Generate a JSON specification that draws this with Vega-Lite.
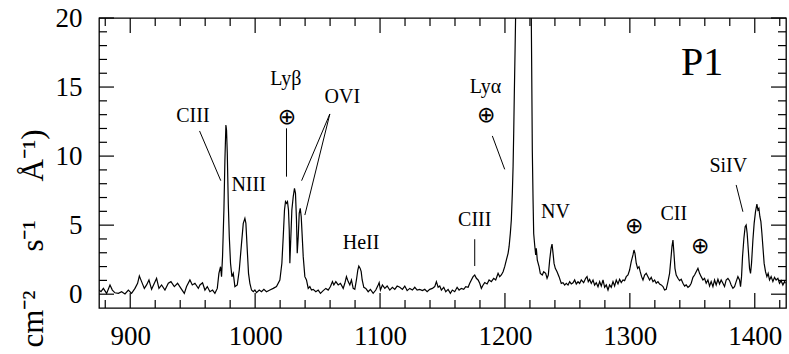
{
  "$schema": "https://vega.github.io/schema/vega-lite/v6.json",
  "width": 687,
  "height": 290,
  "autosize": {"type": "none"},
  "padding": {"left": 99, "top": 18, "right": 3, "bottom": 46},
  "background": "white",
  "config": {
    "view": {"stroke": "black", "strokeWidth": 1.3},
    "font": "Liberation Serif",
    "axis": {
      "domain": false,
      "ticks": false,
      "tickSize": 0,
      "grid": false,
      "labelColor": "black",
      "labelFont": "Liberation Serif",
      "labelFontSize": 27,
      "labelOverlap": false,
      "labelFlush": false,
      "titleColor": "black",
      "titleFont": "Liberation Serif",
      "titleFontWeight": "normal"
    }
  },
  "datasets": {
    "spec": [
      {"wl":875,"flux":0.30},{"wl":876.6,"flux":0.18},{"wl":878.5,"flux":0.42},{"wl":881.1,"flux":0.06},{"wl":883.8,"flux":0.67},{"wl":885.7,"flux":0.30},{"wl":887.8,"flux":0.10},{"wl":890.5,"flux":0.06},{"wl":893.1,"flux":0.18},{"wl":895.8,"flux":0.02},{"wl":898.5,"flux":0.30},{"wl":901.1,"flux":0.06},{"wl":903.8,"flux":0.42},{"wl":905.9,"flux":0.79},{"wl":907.3,"flux":1.32},{"wl":909.1,"flux":0.91},{"wl":911.3,"flux":0.42},{"wl":913.1,"flux":0.67},{"wl":915.0,"flux":1.03},{"wl":917.1,"flux":0.35},{"wl":919.3,"flux":0.79},{"wl":921.1,"flux":1.15},{"wl":923.0,"flux":0.42},{"wl":925.1,"flux":0.67},{"wl":927.8,"flux":0.30},{"wl":930.5,"flux":0.79},{"wl":932.6,"flux":0.91},{"wl":935.3,"flux":0.55},{"wl":937.9,"flux":0.79},{"wl":940.6,"flux":0.42},{"wl":943.3,"flux":0.06},{"wl":945.1,"flux":0.55},{"wl":947.8,"flux":1.03},{"wl":949.7,"flux":0.67},{"wl":951.8,"flux":0.79},{"wl":954.5,"flux":0.42},
      {"wl":955.8,"flux":0.67},{"wl":957.9,"flux":0.83},{"wl":959.8,"flux":0.30},{"wl":961.7,"flux":0.55},{"wl":963.8,"flux":0.18},{"wl":965.9,"flux":0.30},{"wl":967.8,"flux":0.06},{"wl":969.7,"flux":0.42},{"wl":971.0,"flux":1.51},{"wl":972.3,"flux":1.99},{"wl":973.1,"flux":1.27},{"wl":973.9,"flux":2.72},{"wl":975.0,"flux":6.10},{"wl":975.8,"flux":9.72},{"wl":976.6,"flux":12.25},{"wl":977.1,"flux":11.89},{"wl":977.7,"flux":10.20},{"wl":978.5,"flux":6.58},{"wl":979.3,"flux":4.17},{"wl":980.3,"flux":2.24},{"wl":981.4,"flux":1.27},{"wl":982.5,"flux":1.51},{"wl":983.8,"flux":0.55},{"wl":985.7,"flux":0.67},{"wl":987.3,"flux":1.75},{"wl":989.1,"flux":3.68},{"wl":990.5,"flux":5.13},{"wl":991.8,"flux":5.49},{"wl":992.6,"flux":5.13},{"wl":993.7,"flux":3.20},{"wl":994.7,"flux":1.51},{"wl":995.8,"flux":0.79},{"wl":997.1,"flux":0.30},{"wl":998.5,"flux":0.18},{"wl":999.8,"flux":0.30},{"wl":1001.1,"flux":0.11},{"wl":1003.3,"flux":0.30},{"wl":1005.1,"flux":0.18},{"wl":1007.0,"flux":0.35},{"wl":1009.1,"flux":0.18},{"wl":1011.8,"flux":0.30},{"wl":1014.5,"flux":0.42},{"wl":1017.1,"flux":0.55},{"wl":1019.8,"flux":1.03},{"wl":1021.4,"flux":2.24},{"wl":1022.5,"flux":4.17},{"wl":1023.5,"flux":6.10},{"wl":1024.3,"flux":6.70},{"wl":1025.1,"flux":6.58},{"wl":1025.9,"flux":6.70},{"wl":1026.7,"flux":6.10},{"wl":1027.3,"flux":4.65},{"wl":1027.8,"flux":2.24},{"wl":1028.6,"flux":4.17},{"wl":1029.4,"flux":6.10},{"wl":1030.5,"flux":7.06},{"wl":1031.5,"flux":7.67},{"wl":1032.3,"flux":7.30},{"wl":1033.1,"flux":5.37},{"wl":1033.7,"flux":2.96},{"wl":1034.5,"flux":4.17},{"wl":1035.3,"flux":5.86},{"wl":1036.1,"flux":6.22},{"wl":1036.9,"flux":5.61},{"wl":1037.7,"flux":4.17},
      {"wl":1038.5,"flux":2.72},{"wl":1039.8,"flux":1.27},{"wl":1041.1,"flux":1.03},{"wl":1042.5,"flux":0.42},{"wl":1043.8,"flux":0.55},{"wl":1045.1,"flux":0.30},{"wl":1046.5,"flux":0.35},{"wl":1048.6,"flux":0.18},{"wl":1050.5,"flux":0.30},{"wl":1052.3,"flux":0.06},{"wl":1054.5,"flux":0.26},{"wl":1056.6,"flux":0.42},{"wl":1058.5,"flux":0.30},{"wl":1060.3,"flux":0.55},{"wl":1061.9,"flux":0.91},{"wl":1063.0,"flux":0.67},{"wl":1064.6,"flux":0.91},{"wl":1066.5,"flux":0.67},{"wl":1068.3,"flux":0.79},{"wl":1070.5,"flux":0.42},{"wl":1071.8,"flux":0.79},{"wl":1073.1,"flux":1.27},{"wl":1074.5,"flux":0.91},{"wl":1075.8,"flux":0.67},{"wl":1077.1,"flux":1.03},{"wl":1078.5,"flux":0.42},{"wl":1079.8,"flux":0.35},{"wl":1081.1,"flux":1.03},{"wl":1082.2,"flux":1.75},{"wl":1083.0,"flux":2.04},{"wl":1084.1,"flux":1.87},{"wl":1084.9,"flux":1.63},{"wl":1085.7,"flux":1.03},{"wl":1087.0,"flux":0.50},{"wl":1088.6,"flux":0.42},{"wl":1090.5,"flux":0.18},{"wl":1092.3,"flux":0.35},{"wl":1094.5,"flux":0.06},{"wl":1096.6,"flux":0.30},{"wl":1098.5,"flux":0.67},{"wl":1099.3,"flux":0.84},{"wl":1100.3,"flux":0.30},{"wl":1101.9,"flux":0.67},{"wl":1103.8,"flux":0.42},{"wl":1105.7,"flux":0.59},{"wl":1107.8,"flux":0.30},{"wl":1109.9,"flux":0.50},{"wl":1111.8,"flux":0.35},{"wl":1113.7,"flux":0.59},
      {"wl":1115.8,"flux":0.50},{"wl":1117.9,"flux":0.35},{"wl":1119.8,"flux":0.59},{"wl":1121.7,"flux":0.26},{"wl":1123.8,"flux":0.42},{"wl":1125.9,"flux":0.30},{"wl":1127.8,"flux":0.50},{"wl":1129.7,"flux":0.30},{"wl":1131.8,"flux":0.35},{"wl":1133.9,"flux":0.26},{"wl":1135.8,"flux":0.35},{"wl":1137.7,"flux":0.18},{"wl":1139.8,"flux":0.35},{"wl":1141.9,"flux":0.42},{"wl":1143.8,"flux":0.55},{"wl":1145.1,"flux":0.91},{"wl":1146.5,"flux":0.50},{"wl":1147.8,"flux":0.59},{"wl":1149.1,"flux":0.30},{"wl":1151.0,"flux":0.50},{"wl":1152.6,"flux":0.18},{"wl":1154.5,"flux":0.35},{"wl":1156.3,"flux":0.06},{"wl":1157.9,"flux":0.30},{"wl":1159.8,"flux":0.18},{"wl":1161.7,"flux":0.50},{"wl":1163.3,"flux":0.30},{"wl":1165.1,"flux":0.42},{"wl":1167.0,"flux":0.35},{"wl":1168.6,"flux":0.55},{"wl":1170.5,"flux":0.50},{"wl":1171.8,"flux":0.79},{"wl":1173.1,"flux":1.03},{"wl":1174.5,"flux":1.27},{"wl":1175.8,"flux":1.39},{"wl":1177.1,"flux":1.15},{"wl":1178.5,"flux":1.03},{"wl":1179.8,"flux":0.79},{"wl":1181.1,"flux":0.42},{"wl":1182.5,"flux":0.67},{"wl":1183.8,"flux":0.84},{"wl":1185.7,"flux":0.74},{"wl":1187.3,"flux":1.03},{"wl":1189.1,"flux":0.91},{"wl":1191.0,"flux":1.15},{"wl":1192.6,"flux":1.03},{"wl":1194.5,"flux":1.51},
      {"wl":1195.8,"flux":1.27},{"wl":1197.1,"flux":1.39},{"wl":1198.5,"flux":1.63},{"wl":1199.8,"flux":1.99},{"wl":1201.1,"flux":2.47},{"wl":1202.5,"flux":2.96},{"wl":1203.3,"flux":3.44},{"wl":1204.3,"flux":4.40},{"wl":1205.1,"flux":5.37},{"wl":1205.9,"flux":7.30},{"wl":1206.5,"flux":9.23},{"wl":1207.0,"flux":11.65},{"wl":1207.5,"flux":14.54},{"wl":1208.1,"flux":17.68},{"wl":1208.6,"flux":20.5},{"wl":1210.0,"flux":28},{"wl":1213.0,"flux":36},{"wl":1216.0,"flux":40},{"wl":1219.0,"flux":33},{"wl":1220.6,"flux":24},{"wl":1221.1,"flux":19.85},{"wl":1221.4,"flux":16.47},{"wl":1221.7,"flux":12.85},{"wl":1221.9,"flux":10.44},{"wl":1222.5,"flux":6.82},{"wl":1223.0,"flux":4.40},{"wl":1223.8,"flux":3.56},{"wl":1224.6,"flux":2.84},{"wl":1225.1,"flux":3.32},{"wl":1225.9,"flux":2.47},{"wl":1227.3,"flux":1.99},{"wl":1228.3,"flux":1.51},{"wl":1229.9,"flux":1.39},{"wl":1231.0,"flux":1.63},{"wl":1232.6,"flux":1.51},{"wl":1233.7,"flux":1.15},{"wl":1234.7,"flux":1.39},{"wl":1235.8,"flux":2.47},{"wl":1236.9,"flux":3.32},{"wl":1237.7,"flux":3.63},{"wl":1238.5,"flux":2.96},{"wl":1239.3,"flux":2.23},{"wl":1240.3,"flux":1.87},{"wl":1241.7,"flux":1.63},{"wl":1243.3,"flux":1.27},{"wl":1245.1,"flux":0.78},{"wl":1246.5,"flux":0.83},{"wl":1247.8,"flux":0.66},{"wl":1249.1,"flux":0.78},{"wl":1250.5,"flux":0.66},{"wl":1251.8,"flux":0.90},{"wl":1253.1,"flux":0.74},{"wl":1254.5,"flux":0.83},{"wl":1255.8,"flux":1.03},{"wl":1257.1,"flux":0.74},{"wl":1258.5,"flux":0.90},{"wl":1259.8,"flux":0.78},{"wl":1261.1,"flux":1.03},{"wl":1263.0,"flux":0.83},{"wl":1264.6,"flux":1.15},{"wl":1265.7,"flux":1.27},{"wl":1266.7,"flux":0.90},{"wl":1267.8,"flux":1.07},{"wl":1269.1,"flux":0.78},{"wl":1270.5,"flux":1.03},{"wl":1271.8,"flux":0.66},{"wl":1273.1,"flux":0.83},{"wl":1274.5,"flux":0.54},
      {"wl":1275.8,"flux":0.91},{"wl":1277.1,"flux":0.59},{"wl":1278.5,"flux":1.03},{"wl":1279.8,"flux":0.50},{"wl":1281.1,"flux":0.67},{"wl":1282.5,"flux":0.30},{"wl":1283.8,"flux":0.67},{"wl":1285.1,"flux":0.50},{"wl":1286.5,"flux":0.91},{"wl":1287.8,"flux":0.59},{"wl":1289.1,"flux":1.03},{"wl":1290.5,"flux":0.74},{"wl":1291.8,"flux":1.08},{"wl":1293.1,"flux":0.84},{"wl":1294.5,"flux":1.03},{"wl":1295.8,"flux":0.98},{"wl":1297.1,"flux":1.27},{"wl":1298.5,"flux":1.39},{"wl":1299.8,"flux":1.75},{"wl":1301.1,"flux":2.36},{"wl":1302.5,"flux":2.84},{"wl":1303.3,"flux":3.20},{"wl":1304.1,"flux":2.96},{"wl":1305.1,"flux":2.24},{"wl":1306.2,"flux":1.87},{"wl":1307.3,"flux":1.99},{"wl":1308.3,"flux":1.63},{"wl":1309.4,"flux":1.27},{"wl":1310.5,"flux":1.03},{"wl":1311.8,"flux":1.39},{"wl":1313.1,"flux":1.51},{"wl":1314.5,"flux":1.27},{"wl":1315.8,"flux":1.03},{"wl":1317.1,"flux":1.22},{"wl":1318.5,"flux":0.91},{"wl":1319.8,"flux":1.03},{"wl":1321.1,"flux":0.79},{"wl":1322.5,"flux":0.91},{"wl":1323.8,"flux":0.74},{"wl":1325.1,"flux":0.67},{"wl":1326.5,"flux":0.55},{"wl":1327.8,"flux":0.30},{"wl":1329.1,"flux":0.35},{"wl":1330.5,"flux":0.91},{"wl":1331.8,"flux":1.51},{"wl":1332.9,"flux":2.60},{"wl":1333.7,"flux":3.44},{"wl":1334.5,"flux":3.92},{"wl":1335.3,"flux":2.96},{"wl":1336.1,"flux":1.87},{"wl":1337.1,"flux":1.39},{"wl":1338.5,"flux":1.15},{"wl":1339.8,"flux":0.98},{"wl":1341.1,"flux":1.08},{"wl":1342.5,"flux":0.79},{"wl":1343.8,"flux":0.59},{"wl":1345.1,"flux":0.67},{"wl":1346.5,"flux":0.50},{"wl":1347.8,"flux":0.59},{"wl":1349.1,"flux":0.79},{"wl":1350.5,"flux":1.22},{"wl":1351.8,"flux":1.39},{"wl":1353.1,"flux":1.63},{"wl":1354.5,"flux":1.87},
      {"wl":1355.8,"flux":1.51},{"wl":1357.1,"flux":1.27},{"wl":1358.5,"flux":1.03},{"wl":1359.8,"flux":1.15},{"wl":1361.1,"flux":0.79},{"wl":1362.5,"flux":1.03},{"wl":1363.8,"flux":0.59},{"wl":1365.1,"flux":0.91},{"wl":1366.5,"flux":0.55},{"wl":1367.8,"flux":1.03},{"wl":1369.1,"flux":0.67},{"wl":1370.5,"flux":1.08},{"wl":1371.8,"flux":0.74},{"wl":1373.1,"flux":1.03},{"wl":1374.5,"flux":0.79},{"wl":1375.8,"flux":0.55},{"wl":1377.1,"flux":1.03},{"wl":1378.5,"flux":1.15},{"wl":1379.8,"flux":0.98},{"wl":1381.1,"flux":0.67},{"wl":1382.5,"flux":0.43},{"wl":1383.8,"flux":0.55},{"wl":1385.1,"flux":0.91},{"wl":1386.5,"flux":1.27},{"wl":1387.8,"flux":1.03},{"wl":1388.6,"flux":0.55},{"wl":1389.4,"flux":1.27},{"wl":1390.2,"flux":2.72},{"wl":1391.3,"flux":4.05},{"wl":1392.3,"flux":4.89},{"wl":1393.1,"flux":5.01},{"wl":1393.9,"flux":4.41},{"wl":1395.0,"flux":2.96},{"wl":1395.8,"flux":1.87},{"wl":1396.6,"flux":1.51},{"wl":1397.4,"flux":2.23},{"wl":1398.5,"flux":3.92},{"wl":1399.5,"flux":5.13},{"wl":1400.6,"flux":5.98},{"wl":1401.7,"flux":6.53},{"wl":1402.5,"flux":6.10},{"wl":1403.3,"flux":6.22},{"wl":1404.1,"flux":5.61},{"wl":1404.9,"flux":5.25},{"wl":1405.7,"flux":4.41},{"wl":1406.5,"flux":3.44},{"wl":1407.5,"flux":2.23},{"wl":1408.6,"flux":1.63},{"wl":1409.7,"flux":1.27},{"wl":1410.7,"flux":1.51},{"wl":1411.8,"flux":1.03},{"wl":1413.1,"flux":1.27},{"wl":1414.5,"flux":0.91},{"wl":1415.8,"flux":1.22},{"wl":1417.1,"flux":1.03},{"wl":1418.5,"flux":1.15},{"wl":1419.8,"flux":0.79},{"wl":1421.1,"flux":0.98},{"wl":1422.5,"flux":0.67},{"wl":1423.8,"flux":0.91},{"wl":1424.6,"flux":0.79}
    ],
    "xMajor": [{"wl":900},{"wl":1000},{"wl":1100},{"wl":1200},{"wl":1300},{"wl":1400}],
    "xMinor": [{"wl":880},{"wl":920},{"wl":940},{"wl":960},{"wl":980},{"wl":1020},{"wl":1040},{"wl":1060},{"wl":1080},{"wl":1120},{"wl":1140},{"wl":1160},{"wl":1180},{"wl":1220},{"wl":1240},{"wl":1260},{"wl":1280},{"wl":1320},{"wl":1340},{"wl":1360},{"wl":1380},{"wl":1420}],
    "yMajor": [{"flux":0},{"flux":5},{"flux":10},{"flux":15},{"flux":20}],
    "yMinor": [{"flux":1},{"flux":2},{"flux":3},{"flux":4},{"flux":6},{"flux":7},{"flux":8},{"flux":9},{"flux":11},{"flux":12},{"flux":13},{"flux":14},{"flux":16},{"flux":17},{"flux":18},{"flux":19}],
    "lineLabels": [
      {"label":"CIII","wl":950.2,"flux":12.49},
      {"label":"NIII","wl":994.8,"flux":7.47},
      {"label":"Lyβ","wl":1024.6,"flux":15.15},
      {"label":"OVI","wl":1069.8,"flux":13.82},
      {"label":"HeII","wl":1084.8,"flux":3.25},
      {"label":"CIII","wl":1175.8,"flux":4.94},
      {"label":"Lyα","wl":1184.4,"flux":14.55},
      {"label":"NV","wl":1240.4,"flux":5.50},
      {"label":"CII","wl":1335.2,"flux":5.37},
      {"label":"SiIV","wl":1378.8,"flux":8.87}
    ],
    "telluric": [
      {"label":"⊕","wl":1025.4,"flux":12.85},
      {"label":"⊕","wl":1185.1,"flux":12.98},
      {"label":"⊕","wl":1303.4,"flux":4.95},
      {"label":"⊕","wl":1356.4,"flux":3.5}
    ],
    "panel": [
      {"label":"P1","wl":1357.8,"flux":15.87}
    ],
    "leaders": [
      {"wl":955.5,"flux":11.82,"wl2":972.5,"flux2":8.22},
      {"wl":1025.1,"flux":12.01,"wl2":1025.1,"flux2":8.51},
      {"wl":1059.8,"flux":13.05,"wl2":1037.2,"flux2":8.22},
      {"wl":1059.8,"flux":13.05,"wl2":1039.8,"flux2":5.73},
      {"wl":1175.8,"flux":3.98,"wl2":1175.8,"flux2":2.04},
      {"wl":1189.9,"flux":11.46,"wl2":1199.8,"flux2":9.04},
      {"wl":1385.1,"flux":7.91,"wl2":1390.5,"flux2":5.97}
    ]
  },
  "layer": [
    {
      "data": {"name": "spec"},
      "mark": {"type": "line", "color": "black", "strokeWidth": 1.2, "clip": true},
      "encoding": {
        "x": {"field": "wl", "type": "quantitative", "scale": {"domain": [875, 1425], "nice": false, "zero": false},
              "axis": {"orient": "bottom", "values": [900,1000,1100,1200,1300,1400], "format": "d", "labelPadding": 15, "title": null}},
        "y": {"field": "flux", "type": "quantitative", "scale": {"domain": [-1, 20], "nice": false, "zero": false},
              "axis": {"orient": "left", "values": [0,5,10,15,20], "format": "d", "labelPadding": 17,
                       "title": "cm⁻²\u00a0\u00a0\u00a0\u00a0\u00a0s⁻¹\u00a0\u00a0\u00a0\u00a0\u00a0Å⁻¹)", "titleFontSize": 31, "titleAngle": 270, "titleAlign": "left",
                       "titleBaseline": "alphabetic", "titleX": -57, "titleY": 329, "titleLimit": 1000}}
      }
    },
    {
      "data": {"name": "xMajor"},
      "mark": {"type": "rule", "color": "black", "strokeWidth": 1.2},
      "encoding": {
        "x": {"field": "wl", "type": "quantitative", "scale": {"domain": [875, 1425], "nice": false, "zero": false}, "axis": null},
        "y": {"datum": -1, "type": "quantitative", "scale": {"domain": [-1, 20], "nice": false, "zero": false}, "axis": null},
        "y2": {"datum": 0.086}
      }
    },
    {
      "data": {"name": "xMinor"},
      "mark": {"type": "rule", "color": "black", "strokeWidth": 1.2},
      "encoding": {
        "x": {"field": "wl", "type": "quantitative", "scale": {"domain": [875, 1425], "nice": false, "zero": false}, "axis": null},
        "y": {"datum": -1, "type": "quantitative", "scale": {"domain": [-1, 20], "nice": false, "zero": false}, "axis": null},
        "y2": {"datum": -0.42}
      }
    },
    {
      "data": {"name": "xMajor"},
      "mark": {"type": "rule", "color": "black", "strokeWidth": 1.2},
      "encoding": {
        "x": {"field": "wl", "type": "quantitative", "scale": {"domain": [875, 1425], "nice": false, "zero": false}, "axis": null},
        "y": {"datum": 20, "type": "quantitative", "scale": {"domain": [-1, 20], "nice": false, "zero": false}, "axis": null},
        "y2": {"datum": 18.914}
      }
    },
    {
      "data": {"name": "xMinor"},
      "mark": {"type": "rule", "color": "black", "strokeWidth": 1.2},
      "encoding": {
        "x": {"field": "wl", "type": "quantitative", "scale": {"domain": [875, 1425], "nice": false, "zero": false}, "axis": null},
        "y": {"datum": 20, "type": "quantitative", "scale": {"domain": [-1, 20], "nice": false, "zero": false}, "axis": null},
        "y2": {"datum": 19.42}
      }
    },
    {
      "data": {"name": "yMajor"},
      "mark": {"type": "rule", "color": "black", "strokeWidth": 1.2},
      "encoding": {
        "y": {"field": "flux", "type": "quantitative", "scale": {"domain": [-1, 20], "nice": false, "zero": false}, "axis": null},
        "x": {"datum": 875, "type": "quantitative", "scale": {"domain": [875, 1425], "nice": false, "zero": false}, "axis": null},
        "x2": {"datum": 887}
      }
    },
    {
      "data": {"name": "yMinor"},
      "mark": {"type": "rule", "color": "black", "strokeWidth": 1.2},
      "encoding": {
        "y": {"field": "flux", "type": "quantitative", "scale": {"domain": [-1, 20], "nice": false, "zero": false}, "axis": null},
        "x": {"datum": 875, "type": "quantitative", "scale": {"domain": [875, 1425], "nice": false, "zero": false}, "axis": null},
        "x2": {"datum": 881.4}
      }
    },
    {
      "data": {"name": "yMajor"},
      "mark": {"type": "rule", "color": "black", "strokeWidth": 1.2},
      "encoding": {
        "y": {"field": "flux", "type": "quantitative", "scale": {"domain": [-1, 20], "nice": false, "zero": false}, "axis": null},
        "x": {"datum": 1425, "type": "quantitative", "scale": {"domain": [875, 1425], "nice": false, "zero": false}, "axis": null},
        "x2": {"datum": 1413}
      }
    },
    {
      "data": {"name": "yMinor"},
      "mark": {"type": "rule", "color": "black", "strokeWidth": 1.2},
      "encoding": {
        "y": {"field": "flux", "type": "quantitative", "scale": {"domain": [-1, 20], "nice": false, "zero": false}, "axis": null},
        "x": {"datum": 1425, "type": "quantitative", "scale": {"domain": [875, 1425], "nice": false, "zero": false}, "axis": null},
        "x2": {"datum": 1418.6}
      }
    },
    {
      "data": {"name": "leaders"},
      "mark": {"type": "rule", "color": "black", "strokeWidth": 1},
      "encoding": {
        "x": {"field": "wl", "type": "quantitative", "scale": {"domain": [875, 1425], "nice": false, "zero": false}, "axis": null},
        "y": {"field": "flux", "type": "quantitative", "scale": {"domain": [-1, 20], "nice": false, "zero": false}, "axis": null},
        "x2": {"field": "wl2"},
        "y2": {"field": "flux2"}
      }
    },
    {
      "data": {"name": "lineLabels"},
      "mark": {"type": "text", "font": "Liberation Serif", "fontSize": 20, "color": "black", "align": "center", "baseline": "alphabetic"},
      "encoding": {
        "x": {"field": "wl", "type": "quantitative", "scale": {"domain": [875, 1425], "nice": false, "zero": false}, "axis": null},
        "y": {"field": "flux", "type": "quantitative", "scale": {"domain": [-1, 20], "nice": false, "zero": false}, "axis": null},
        "text": {"field": "label"}
      }
    },
    {
      "data": {"name": "telluric"},
      "mark": {"type": "text", "font": "DejaVu Sans", "fontSize": 22, "color": "black", "align": "center", "baseline": "middle"},
      "encoding": {
        "x": {"field": "wl", "type": "quantitative", "scale": {"domain": [875, 1425], "nice": false, "zero": false}, "axis": null},
        "y": {"field": "flux", "type": "quantitative", "scale": {"domain": [-1, 20], "nice": false, "zero": false}, "axis": null},
        "text": {"field": "label"}
      }
    },
    {
      "data": {"name": "panel"},
      "mark": {"type": "text", "font": "Liberation Serif", "fontSize": 40, "color": "black", "align": "center", "baseline": "alphabetic"},
      "encoding": {
        "x": {"field": "wl", "type": "quantitative", "scale": {"domain": [875, 1425], "nice": false, "zero": false}, "axis": null},
        "y": {"field": "flux", "type": "quantitative", "scale": {"domain": [-1, 20], "nice": false, "zero": false}, "axis": null},
        "text": {"field": "label"}
      }
    }
  ],
  "resolve": {"axis": {"x": "independent", "y": "independent"}}
}
